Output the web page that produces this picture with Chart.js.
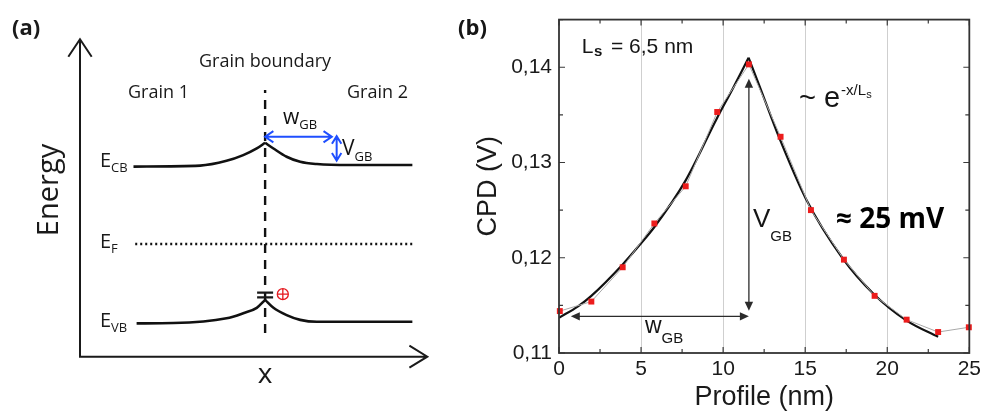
<!DOCTYPE html>
<html>
<head>
<meta charset="utf-8">
<script src="https://cdn.jsdelivr.net/npm/chart.js@4.4.1/dist/chart.umd.min.js"></script>
<style>
  html, body { margin: 0; padding: 0; background: #fff; }
  #wrap { position: relative; width: 985px; height: 411px; overflow: hidden; background: #fff; }
  canvas { position: absolute; top: 0; }
  #schemeCanvas { left: 0; }
  #cpdCanvas { left: 450px; }
</style>
</head>
<body>
<div id="wrap">
  <canvas id="schemeCanvas" width="450" height="411"></canvas>
  <canvas id="cpdCanvas" width="535" height="411"></canvas>
</div>
<script>
// (a) band diagram, schematic units: position 0-100, energy 0-100
const bandX    = [15.4, 34.6, 42.2, 47.0, 50.9, 53.3, 55.7, 59.5, 63.4, 68.2, 77.7, 95.7];
const cbEnergy = [59.9, 60.2, 61.7, 63.5, 65.6, 67.4, 65.6, 63.0, 61.4, 60.7, 60.4, 60.4];
const vbX      = [16.3, 26.9, 42.2, 47.0, 50.9, 53.3, 55.7, 59.5, 63.4, 68.2, 95.7];
const vbEnergy = [10.5, 10.6, 12.1, 13.7, 15.4, 17.9, 15.4, 13.1, 11.6, 11.0, 11.0];
const bandPeak = 5;
const fermiX = [15.9, 95.7];
const fermiEnergy = [35.5, 35.5];
const gbX = [53.3, 53.3];
const gbEnergy = [7.5, 84.0];
const wArrowX = [53.3, 72.5];
const wArrowE = [69.3, 69.3];
const vArrowX = [73.9, 73.9];
const vArrowE = [69.5, 61.75];
const trapEnergy = [20.2, 18.7];
const holePos = [58.4, 19.7];

// (b) CPD profile across the grain boundary
const cpdX = [0.05, 1.97, 3.88, 5.81, 7.72, 9.64, 11.57, 13.50, 15.35, 17.36, 19.23, 21.18, 23.10, 24.97];
const cpdV = [0.1144, 0.1154, 0.1190, 0.1236, 0.1275, 0.1353, 0.1403, 0.1327, 0.1250, 0.1198, 0.1160, 0.1135, 0.1122, 0.1127];
const fitLeftX = [0, 1.16, 1.97, 3.88, 4.99, 5.8, 7.71, 9.61, 10.6, 11.55];
const fitLeftV = [0.1137, 0.1149, 0.1160, 0.1193, 0.1215, 0.1232, 0.1281, 0.1346, 0.1378, 0.1410];
const fitRightX = [11.55, 12.2, 13.44, 15.04, 17.26, 19.17, 21.18, 23.1];
const fitRightV = [0.1410, 0.1381, 0.1325, 0.1262, 0.1200, 0.1162, 0.1134, 0.1117];
const vgbArrowX = [11.57, 11.57];
const vgbArrowV = [0.1388, 0.11444];
const wgbArrowX = [0.72, 11.57];
const wgbArrowV = [0.11385, 0.11385];
const profileTicks = [0, 5, 10, 15, 20, 25];
const cpdTicks = [0.11, 0.12, 0.13, 0.14];

function pts(xs, ys) {
    return xs.map((x, i) => ({ x: x, y: ys[i] }));
}

function subText(ctx, main, sub, x, y, mainFont, subFont, drop) {
    ctx.font = mainFont;
    ctx.fillText(main, x, y);
    const w = ctx.measureText(main).width;
    ctx.font = subFont;
    ctx.fillText(sub, x + w, y + drop);
}

function chevron(ctx, tx, ty, back, len, spread) {
    ctx.moveTo(tx + len * Math.cos(back + spread), ty + len * Math.sin(back + spread));
    ctx.lineTo(tx, ty);
    ctx.lineTo(tx + len * Math.cos(back - spread), ty + len * Math.sin(back - spread));
}

function arrowHead(ctx, tx, ty, dir, len, half) {
    const bx = tx - len * Math.cos(dir), by = ty - len * Math.sin(dir);
    const px = -Math.sin(dir) * half, py = Math.cos(dir) * half;
    ctx.beginPath();
    ctx.moveTo(tx, ty);
    ctx.lineTo(bx + px, by + py);
    ctx.lineTo(bx - px, by - py);
    ctx.closePath();
    ctx.fill();
}

const schemeDecor = {
    id: 'schemeDecor',
    afterDatasetsDraw(chart) {
        const { ctx, chartArea: a, scales: { x, y } } = chart;
        ctx.save();
        // energy / position axes
        ctx.strokeStyle = '#1a1a1a';
        ctx.lineWidth = 2;
        ctx.lineJoin = 'miter';
        ctx.beginPath();
        ctx.moveTo(a.left, a.top);
        ctx.lineTo(a.left, a.bottom);
        ctx.lineTo(a.right, a.bottom);
        chevron(ctx, a.left, a.top, Math.PI / 2, 21, 0.59);
        chevron(ctx, a.right, a.bottom, Math.PI, 21, 0.55);
        ctx.stroke();

        // blue w_GB and V_GB arrows
        ctx.strokeStyle = '#1f4fff';
        ctx.lineWidth = 2;
        const w0 = x.getPixelForValue(wArrowX[0]), w1 = x.getPixelForValue(wArrowX[1]);
        const wy = y.getPixelForValue(wArrowE[0]);
        const vx = x.getPixelForValue(vArrowX[0]);
        const v0 = y.getPixelForValue(vArrowE[0]), v1 = y.getPixelForValue(vArrowE[1]);
        ctx.beginPath();
        ctx.moveTo(w0, wy); ctx.lineTo(w1, wy);
        chevron(ctx, w0, wy, 0, 10, 0.6);
        chevron(ctx, w1, wy, Math.PI, 10, 0.6);
        ctx.moveTo(vx, v0); ctx.lineTo(vx, v1);
        chevron(ctx, vx, v0, Math.PI / 2, 9, 0.55);
        chevron(ctx, vx, v1, -Math.PI / 2, 9, 0.55);
        ctx.stroke();

        // trap level marks and hole
        const gx = x.getPixelForValue(gbX[0]);
        ctx.strokeStyle = '#1a1a1a';
        ctx.lineWidth = 2.2;
        ctx.beginPath();
        trapEnergy.forEach(e => {
            const ty = y.getPixelForValue(e);
            ctx.moveTo(gx - 8, ty); ctx.lineTo(gx + 8, ty);
        });
        ctx.stroke();
        const hx = x.getPixelForValue(holePos[0]), hy = y.getPixelForValue(holePos[1]);
        ctx.strokeStyle = '#e5191f';
        ctx.lineWidth = 1.3;
        ctx.beginPath();
        ctx.arc(hx, hy, 5.5, 0, Math.PI * 2);
        ctx.moveTo(hx - 5.5, hy); ctx.lineTo(hx + 5.5, hy);
        ctx.moveTo(hx, hy - 5.5); ctx.lineTo(hx, hy + 5.5);
        ctx.stroke();

        // labels
        ctx.fillStyle = '#1a1a1a';
        ctx.textAlign = 'left';
        ctx.textBaseline = 'alphabetic';
        ctx.font = 'bold 22px "Open Sans"';
        ctx.fillText('(a)', 12, 35);
        ctx.font = '18px "Open Sans"';
        ctx.fillText('Grain boundary', 199, 66.7);
        ctx.fillText('Grain 1', 128, 98.3);
        ctx.fillText('Grain 2', 347, 98.3);
        subText(ctx, 'E', 'CB', 100, 166.7, '20px "Open Sans"', '13px "Open Sans"', 4.8);
        subText(ctx, 'E', 'F', 100, 248.3, '20px "Open Sans"', '13px "Open Sans"', 5);
        subText(ctx, 'E', 'VB', 100, 326.7, '20px "Open Sans"', '13px "Open Sans"', 4.8);
        ctx.fillStyle = '#111';
        subText(ctx, 'w', 'GB', 283, 124, '21px "Open Sans"', '13px "Open Sans"', 4.5);
        subText(ctx, 'V', 'GB', 342, 155, '21px "Open Sans"', '13px "Open Sans"', 5.5);
        ctx.fillStyle = '#1a1a1a';
        ctx.textAlign = 'center';
        ctx.font = '28px "Open Sans"';
        ctx.fillText('x', 265, 383.3);
        ctx.translate(58, 190);
        ctx.rotate(-Math.PI / 2);
        ctx.font = '29px "Open Sans"';
        ctx.fillText('Energy', 0, 0);
        ctx.restore();
    }
};

const lineStyle = { showLine: true, pointRadius: 0, borderColor: '#111', borderWidth: 2.6, clip: false };

new Chart(document.getElementById('schemeCanvas'), {
    type: 'scatter',
    data: {
        datasets: [
            Object.assign({ data: pts(bandX.slice(0, bandPeak + 1), cbEnergy.slice(0, bandPeak + 1)), cubicInterpolationMode: 'monotone' }, lineStyle),
            Object.assign({ data: pts(bandX.slice(bandPeak), cbEnergy.slice(bandPeak)), cubicInterpolationMode: 'monotone' }, lineStyle),
            Object.assign({ data: pts(vbX.slice(0, bandPeak + 1), vbEnergy.slice(0, bandPeak + 1)), cubicInterpolationMode: 'monotone' }, lineStyle),
            Object.assign({ data: pts(vbX.slice(bandPeak), vbEnergy.slice(bandPeak)), cubicInterpolationMode: 'monotone' }, lineStyle),
            Object.assign({}, lineStyle, { data: pts(fermiX, fermiEnergy), borderWidth: 2.4, borderDash: [2, 3] }),
            Object.assign({}, lineStyle, { data: pts(gbX, gbEnergy), borderWidth: 2.4, borderDash: [9, 7] })
        ]
    },
    options: {
        responsive: false,
        animation: false,
        events: [],
        layout: { padding: { left: 80, top: 39.3, right: 22.7, bottom: 54.3 } },
        plugins: { legend: { display: false }, tooltip: { enabled: false } },
        scales: {
            x: { type: 'linear', min: 0, max: 100, display: false },
            y: { type: 'linear', min: 0, max: 100, display: false }
        }
    },
    plugins: [schemeDecor]
});

const frameTicks = {
    id: 'frameTicks',
    afterDatasetsDraw(chart) {
        const { ctx, chartArea: a, scales: { x, y } } = chart;
        ctx.save();
        ctx.strokeStyle = '#3a3a3a';
        ctx.lineWidth = 1.2;
        ctx.beginPath();
        for (let v = x.min; v <= x.max + 1e-9; v += 2.5) {
            const px = x.getPixelForValue(v);
            const len = Math.abs(v % 5) < 1e-6 ? 6 : 4;
            ctx.moveTo(px, a.bottom); ctx.lineTo(px, a.bottom - len);
            ctx.moveTo(px, a.top); ctx.lineTo(px, a.top + len);
        }
        for (let k = 0; k <= 7; k++) {
            const v = y.min + k * 0.005;
            const py = y.getPixelForValue(v);
            const len = k % 2 === 0 ? 6 : 4;
            ctx.moveTo(a.left, py); ctx.lineTo(a.left + len, py);
            ctx.moveTo(a.right, py); ctx.lineTo(a.right - len, py);
        }
        ctx.stroke();
        ctx.lineWidth = 1.8;
        ctx.strokeStyle = '#333';
        ctx.strokeRect(a.left, a.top, a.right - a.left, a.bottom - a.top);
        ctx.restore();
    }
};

const cpdNotes = {
    id: 'cpdNotes',
    afterDatasetsDraw(chart) {
        const { ctx, scales: { x, y } } = chart;
        ctx.save();
        ctx.strokeStyle = '#2b2b2b';
        ctx.fillStyle = '#2b2b2b';
        ctx.lineWidth = 1.3;
        // V_GB arrow
        const vx = x.getPixelForValue(vgbArrowX[0]);
        const vTop = y.getPixelForValue(vgbArrowV[0]), vBot = y.getPixelForValue(vgbArrowV[1]);
        ctx.beginPath();
        ctx.moveTo(vx, vTop + 6); ctx.lineTo(vx, vBot - 6);
        ctx.stroke();
        arrowHead(ctx, vx, vTop, -Math.PI / 2, 9, 4.2);
        arrowHead(ctx, vx, vBot, Math.PI / 2, 9, 4.2);
        // w_GB arrow
        const wy = y.getPixelForValue(wgbArrowV[0]);
        const wl = x.getPixelForValue(wgbArrowX[0]), wr = x.getPixelForValue(wgbArrowX[1]);
        ctx.beginPath();
        ctx.moveTo(wl + 6, wy); ctx.lineTo(wr - 6, wy);
        ctx.stroke();
        arrowHead(ctx, wl, wy, Math.PI, 9, 4.2);
        arrowHead(ctx, wr, wy, 0, 9, 4.2);

        // text
        ctx.fillStyle = '#151515';
        ctx.textAlign = 'left';
        ctx.textBaseline = 'alphabetic';
        ctx.font = 'bold 22px "Open Sans"';
        ctx.fillText('(b)', 8, 35);
        ctx.font = '21px "Liberation Sans"';
        ctx.fillText('L', 131.7, 52.7);
        ctx.font = 'bold 15px "Liberation Sans"';
        ctx.fillText('s', 144, 55.5);
        ctx.font = '21px "Liberation Sans"';
        ctx.fillText('= 6,5 nm', 161, 52.7);
        ctx.font = '29px "Liberation Sans"';
        ctx.fillText('~ e', 349, 107);
        const eEnd = 349 + ctx.measureText('~ e').width;
        ctx.font = '15px "Liberation Sans"';
        ctx.fillText('-x/L', eEnd + 1, 95);
        const supW = ctx.measureText('-x/L').width;
        ctx.font = '11px "Liberation Sans"';
        ctx.fillText('s', eEnd + 1 + supW, 97.5);
        subText(ctx, 'V', 'GB', 303, 226.7, '26px "Liberation Sans"', '15px "Liberation Sans"', 14.5);
        subText(ctx, 'w', 'GB', 195, 333.3, '23px "Liberation Sans"', '15px "Liberation Sans"', 10);
        ctx.fillStyle = '#000';
        ctx.font = 'bold 28px "Open Sans"';
        ctx.fillText('\u2248 25 mV', 386, 228.3);
        ctx.restore();
    }
};

const tickFont = { family: 'Liberation Sans', size: 21 };

new Chart(document.getElementById('cpdCanvas'), {
    type: 'scatter',
    data: {
        datasets: [
            {
                data: pts(cpdX, cpdV),
                showLine: true,
                borderColor: '#a9a9a9',
                borderWidth: 1,
                pointStyle: 'rect',
                pointRadius: 4.2,
                pointBackgroundColor: '#ec1c1c',
                pointBorderWidth: 0,
                clip: false
            },
            {
                data: pts(fitLeftX, fitLeftV),
                showLine: true,
                borderColor: '#121212',
                borderWidth: 2.2,
                pointRadius: 0,
                cubicInterpolationMode: 'monotone'
            },
            {
                data: pts(fitRightX, fitRightV),
                showLine: true,
                borderColor: '#121212',
                borderWidth: 2.2,
                pointRadius: 0,
                cubicInterpolationMode: 'monotone'
            }
        ]
    },
    options: {
        responsive: false,
        animation: false,
        events: [],
        layout: { padding: { left: 0, top: 17, right: 12, bottom: 0 } },
        plugins: { legend: { display: false }, tooltip: { enabled: false } },
        scales: {
            x: {
                type: 'linear',
                min: 0,
                max: 25,
                afterFit: s => { s.height = 58; },
                afterBuildTicks: s => { s.ticks = profileTicks.map(v => ({ value: v })); },
                grid: {
                    drawTicks: false,
                    lineWidth: 1,
                    color: c => (c.tick && c.tick.value > 0 && c.tick.value < 25) ? '#cfcfcf' : 'rgba(0,0,0,0)'
                },
                border: { display: false },
                ticks: { padding: 4, font: tickFont, color: '#1a1a1a', maxRotation: 0, autoSkip: false },
                title: {
                    display: true,
                    text: 'Profile (nm)',
                    color: '#1a1a1a',
                    font: { family: 'Liberation Sans', size: 27, lineHeight: 1 },
                    padding: { top: 0, bottom: 0 }
                }
            },
            y: {
                type: 'linear',
                min: 0.11,
                max: 0.145,
                afterFit: s => { s.width = 109; },
                afterBuildTicks: s => { s.ticks = cpdTicks.map(v => ({ value: v })); },
                grid: { display: false, drawTicks: false },
                border: { display: false },
                ticks: {
                    padding: 7,
                    font: tickFont,
                    color: '#1a1a1a',
                    callback: v => v.toFixed(2).replace('.', ',')
                },
                title: {
                    display: true,
                    text: 'CPD (V)',
                    color: '#1a1a1a',
                    font: { family: 'Liberation Sans', size: 27, lineHeight: 1 },
                    padding: { top: 25, bottom: 0 }
                }
            }
        }
    },
    plugins: [frameTicks, cpdNotes]
});
</script>
</body>
</html>
